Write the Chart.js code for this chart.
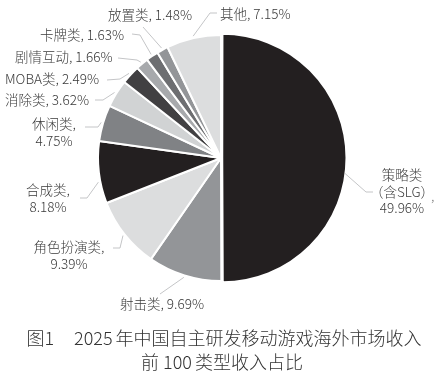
<!DOCTYPE html>
<html>
<head>
<meta charset="utf-8">
<script src="https://cdn.jsdelivr.net/npm/chart.js@4"></script>
<style>
  html,body{margin:0;padding:0;background:#fff;}
  #wrap{position:relative;width:438px;height:374px;}
  canvas{position:absolute;left:0;top:0;}
  .cap{position:absolute;left:0;width:438px;text-align:center;font-family:"Noto Sans CJK SC","Noto Sans",sans-serif;font-size:18px;font-weight:300;color:#333;line-height:24px;white-space:nowrap;}
</style>
</head>
<body>
<div id="wrap">
  <canvas id="c" width="438" height="374"></canvas>
  <div class="cap" style="top:325px;left:5px;">图1<span style="display:inline-block;width:20px"></span>2025<span style="display:inline-block;width:3px"></span>年中国自主研发移动游戏海外市场收入</div>
  <div class="cap" style="top:349px;left:3px;">前<span style="display:inline-block;width:4px"></span>100<span style="display:inline-block;width:3px"></span>类型收入占比</div>
</div>
<script>
// ---- data ----
const categories = ["策略类（含SLG）","射击类","角色扮演类","合成类","休闲类","消除类","MOBA类","剧情互动","卡牌类","放置类","其他"];
const shares = [49.96, 9.69, 9.39, 8.18, 4.75, 3.62, 2.49, 1.66, 1.63, 1.48, 7.15];
const labelLines = [
  ["策略类","（含SLG）","49.96%"],
  ["射击类, 9.69%"],
  ["角色扮演类,","9.39%"],
  ["合成类,","8.18%"],
  ["休闲类,","4.75%"],
  ["消除类, 3.62%"],
  ["MOBA类, 2.49%"],
  ["剧情互动, 1.66%"],
  ["卡牌类, 1.63%"],
  ["放置类, 1.48%"],
  ["其他, 7.15%"]
];

// ---- styles / layout ----
const colors = ["#231f20","#939598","#dcddde","#231f20","#808285","#d1d3d4","#414042","#a7a9ac","#6d6e71","#939598","#dcddde"];
const offsets = [5,0,0,0,0,0,0,0,0,0,0];
// label layout: text anchor, alignment, line step, leader elbow/end, start fraction along slice
const labelLayout = [
  {x:402, y:175, align:"center", step:16.5, elbow:[366,192], end:[373,192], frac:0.54},
  {x:120, y:304, align:"left", step:16, elbow:[160,294], end:[160,294], frac:0.5},
  {x:69,  y:247, align:"center", step:16.5, elbow:[120,248], end:[113,248], frac:0.5},
  {x:48,  y:190, align:"center", step:17, elbow:[87,198], end:[80,198], frac:0.35},
  {x:54,  y:124, align:"center", step:17, elbow:[98,127], end:[85,127], frac:0.5},
  {x:5,   y:100, align:"left", step:16, elbow:[103,100], end:[95,100], frac:0.5},
  {x:5,   y:79,  align:"left", step:16, elbow:[120,79], end:[107,80], frac:0.5},
  {x:15,  y:57,  align:"left", step:16, elbow:[137,60], end:[118,58], frac:0.5},
  {x:40,  y:35,  align:"left", step:16, elbow:[140,35], end:[132,34], frac:0.5},
  {x:108, y:15,  align:"left", step:16, elbow:[143,27], end:[143,27], frac:0.5},
  {x:220, y:14,  align:"left", step:16, elbow:[210,13], end:[217,13], frac:0.5}
];

const labelPlugin = {
  id: "outLabels",
  afterDatasetsDraw(chart) {
    const ctx = chart.ctx;
    const meta = chart.getDatasetMeta(0);
    ctx.save();
    meta.data.forEach((arc, i) => {
      const p = arc.getProps(["x","y","startAngle","endAngle","outerRadius"], true);
      const L = labelLayout[i];
      const a = p.startAngle + (p.endAngle - p.startAngle) * L.frac;
      const r = p.outerRadius + 2;
      const sx = p.x + Math.cos(a) * r, sy = p.y + Math.sin(a) * r;
      ctx.strokeStyle = "#c4c5c7";
      ctx.lineWidth = 1;
      ctx.beginPath();
      ctx.moveTo(sx, sy);
      ctx.lineTo(L.elbow[0], L.elbow[1]);
      ctx.lineTo(L.end[0], L.end[1]);
      ctx.stroke();
      ctx.fillStyle = "#3a3a3a";
      ctx.font = '300 13.5px "Noto Sans CJK SC", "Noto Sans", sans-serif';
      ctx.textAlign = L.align;
      ctx.textBaseline = "middle";
      labelLines[i].forEach((t, k) => ctx.fillText(t, L.x, L.y + k * L.step));
    });
    ctx.fillStyle = "#777";
    ctx.textAlign = "left";
    ctx.fillText(",", 431, 196);
    ctx.restore();
  }
};

new Chart(document.getElementById("c"), {
  type: "pie",
  data: {
    labels: categories,
    datasets: [{
      data: shares,
      backgroundColor: colors,
      borderColor: "#ffffff",
      borderWidth: 2,
      offset: offsets,
      radius: 123
    }]
  },
  options: {
    responsive: false,
    animation: false,
    events: [],
    layout: { padding: { left: 4, right: 0, top: 0, bottom: 58 } },
    plugins: { legend: { display: false }, tooltip: { enabled: false } }
  },
  plugins: [labelPlugin]
});
</script>
</body>
</html>
